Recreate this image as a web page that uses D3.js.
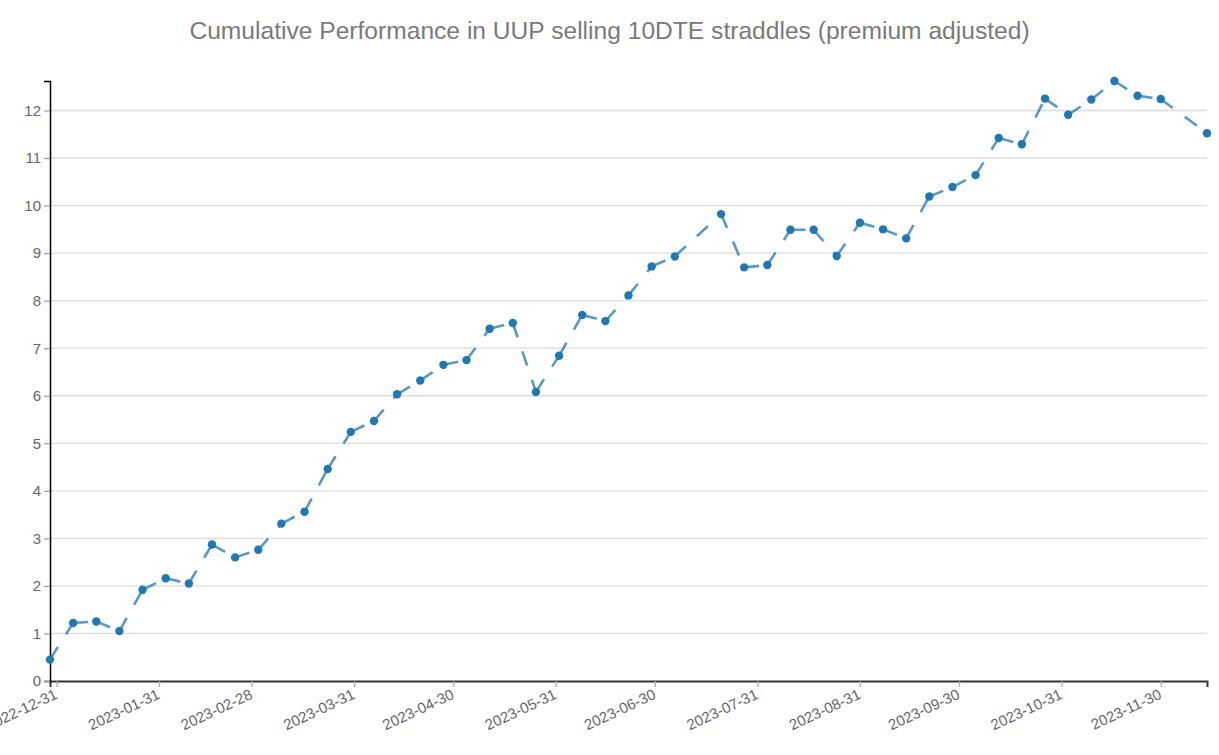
<!DOCTYPE html>
<html>
<head>
<meta charset="utf-8">
<script src="https://cdn.jsdelivr.net/npm/d3@7"></script>
<style>
  html, body { margin: 0; padding: 0; background: #fff; }
  svg { display: block; font-family: "Liberation Sans", Arial, Helvetica, sans-serif; }
</style>
</head>
<body>
<svg id="chart" width="1219" height="755"></svg>
<script>
// ---- data ----
const dates = [
  "2022-12-29","2023-01-05","2023-01-12","2023-01-19","2023-01-26",
  "2023-02-02","2023-02-09","2023-02-16","2023-02-23","2023-03-02",
  "2023-03-09","2023-03-16","2023-03-23","2023-03-30","2023-04-06",
  "2023-04-13","2023-04-20","2023-04-27","2023-05-04","2023-05-11",
  "2023-05-18","2023-05-25","2023-06-01","2023-06-08","2023-06-15",
  "2023-06-22","2023-06-29","2023-07-06","2023-07-20","2023-07-27",
  "2023-08-03","2023-08-10","2023-08-17","2023-08-24","2023-08-31",
  "2023-09-07","2023-09-14","2023-09-21","2023-09-28","2023-10-05",
  "2023-10-12","2023-10-19","2023-10-26","2023-11-02","2023-11-09",
  "2023-11-16","2023-11-23","2023-11-30","2023-12-14"
];
const values = [
  0.45, 1.22, 1.25, 1.05, 1.92,
  2.16, 2.05, 2.87, 2.60, 2.76,
  3.31, 3.56, 4.46, 5.24, 5.47,
  6.03, 6.32, 6.65, 6.75, 7.41,
  7.53, 6.08, 6.84, 7.70, 7.57,
  8.11, 8.72, 8.93, 9.82, 8.70,
  8.75, 9.49, 9.49, 8.94, 9.64,
  9.50, 9.31, 10.19, 10.39, 10.64,
  11.42, 11.29, 12.25, 11.91, 12.23,
  12.62, 12.31, 12.24, 11.52
];
const xTickLabels = [
  "2022-12-31","2023-01-31","2023-02-28","2023-03-31","2023-04-30","2023-05-31",
  "2023-06-30","2023-07-31","2023-08-31","2023-09-30","2023-10-31","2023-11-30"
];
const yTickValues = [0,1,2,3,4,5,6,7,8,9,10,11,12];
const titleText = "Cumulative Performance in UUP selling 10DTE straddles (premium adjusted)";

// ---- chart ----
const W = 1219, H = 755;
const margin = { top: 81, right: 12, bottom: 74, left: 50 };
const parse = d3.utcParse("%Y-%m-%d");
const data = dates.map((d, i) => ({ date: parse(d), value: values[i] }));

const svg = d3.select("#chart");

const x = d3.scaleUtc()
  .domain(d3.extent(data, d => d.date))
  .range([margin.left, W - margin.right]);
const y = d3.scaleLinear()
  .domain([0, d3.max(data, d => d.value)])
  .range([H - margin.bottom, margin.top]);

// title
svg.append("text")
  .attr("x", W / 2)
  .attr("y", 39)
  .attr("text-anchor", "middle")
  .attr("fill", "#7a7a7a")
  .style("font-size", "24.6px")
  .text(titleText);

// grid
svg.append("g")
  .selectAll("line")
  .data(yTickValues.filter(v => v > 0))
  .join("line")
  .attr("x1", margin.left)
  .attr("x2", W - margin.right)
  .attr("y1", d => y(d))
  .attr("y2", d => y(d))
  .attr("stroke", "#dcdcdc")
  .attr("stroke-width", 1.3);

// x axis
const xAxis = svg.append("g")
  .attr("transform", `translate(0,${H - margin.bottom})`)
  .call(d3.axisBottom(x)
    .tickValues(xTickLabels.map(parse))
    .tickFormat(d3.utcFormat("%Y-%m-%d"))
    .tickSizeOuter(6));
xAxis.select(".domain").attr("stroke", "#333").attr("stroke-width", 2);
xAxis.selectAll(".tick line").attr("stroke", "#aaa").attr("stroke-width", 1.2);
xAxis.selectAll(".tick text")
  .attr("fill", "#666")
  .style("font-size", "15px")
  .attr("text-anchor", "end")
  .attr("x", -6)
  .attr("y", 16)
  .attr("dy", 0)
  .attr("transform", "rotate(-25)");

// y axis
const yAxis = svg.append("g")
  .attr("transform", `translate(${margin.left},0)`)
  .call(d3.axisLeft(y).tickValues(yTickValues).tickSizeOuter(6));
yAxis.select(".domain").attr("stroke", "#000").attr("stroke-width", 1.5);
yAxis.selectAll(".tick line").attr("stroke", "#999").attr("stroke-width", 1.2);
yAxis.selectAll(".tick text")
  .attr("fill", "#666")
  .style("font-size", "15px");

// line segments (each dashed from its own start)
const line = d3.line().x(d => x(d.date)).y(d => y(d.value));
svg.append("g")
  .selectAll("path")
  .data(d3.pairs(data))
  .join("path")
  .attr("d", d => line(d))
  .attr("fill", "none")
  .attr("stroke", "#1f77b4")
  .attr("stroke-opacity", 0.75)
  .attr("stroke-width", 2.6)
  .attr("stroke-dasharray", "15,15");

// points
svg.append("g")
  .selectAll("circle")
  .data(data)
  .join("circle")
  .attr("cx", d => x(d.date))
  .attr("cy", d => y(d.value))
  .attr("r", 4.2)
  .attr("fill", "#1f77b4");
</script>
</body>
</html>
